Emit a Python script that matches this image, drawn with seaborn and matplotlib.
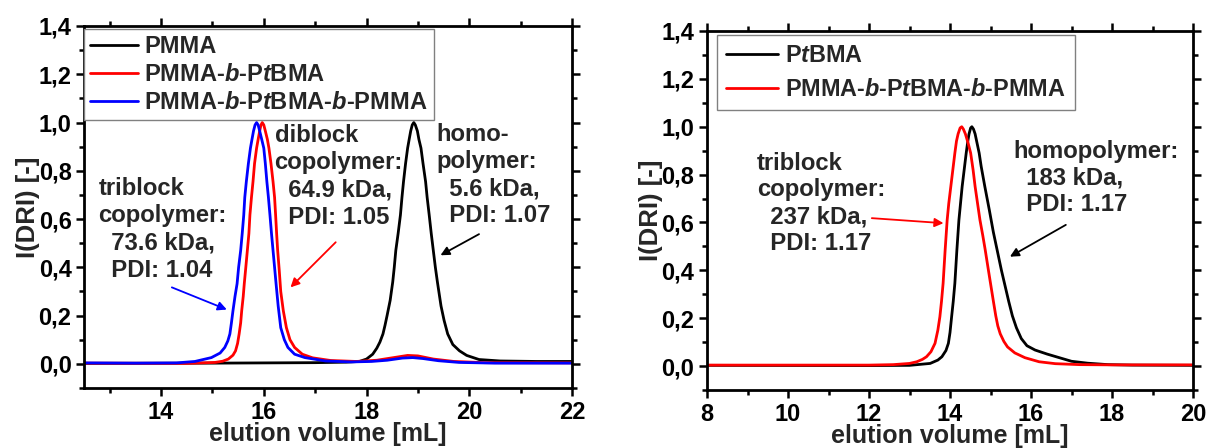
import matplotlib
matplotlib.use("Agg")
import matplotlib.pyplot as plt
import seaborn as sns
import pandas as pd
from matplotlib.ticker import MultipleLocator, FuncFormatter

# ---------------- data ----------------
# Left panel: PMMA homopolymer, diblock, triblock
pmma_x = [12.5, 15.0, 17.0, 17.6, 17.86, 18.0, 18.12, 18.20, 18.26, 18.32, 18.36, 18.40,
          18.46, 18.51, 18.54, 18.57, 18.615, 18.66, 18.69, 18.72, 18.76, 18.80, 18.83,
          18.86, 18.89, 18.92, 18.95, 18.99, 19.02, 19.06, 19.10, 19.15, 19.18, 19.22,
          19.26, 19.30, 19.34, 19.38, 19.45, 19.51, 19.58, 19.68, 19.81, 19.95, 20.19,
          20.6, 21.3, 22.0]
pmma_y = [0.002, 0.003, 0.005, 0.007, 0.010, 0.020, 0.040, 0.065, 0.090, 0.124, 0.160, 0.200,
          0.263, 0.339, 0.400, 0.470, 0.540, 0.617, 0.690, 0.755, 0.830, 0.894, 0.930,
          0.965, 0.990, 1.000, 0.990, 0.965, 0.930, 0.894, 0.830, 0.755, 0.690, 0.617,
          0.540, 0.470, 0.400, 0.339, 0.240, 0.180, 0.124, 0.080, 0.054, 0.035, 0.018,
          0.012, 0.010, 0.010]

di_x = [12.5, 14.5, 15.05, 15.20, 15.31, 15.40, 15.45, 15.49, 15.52, 15.55, 15.57, 15.60,
        15.62, 15.65, 15.68, 15.71, 15.73, 15.76, 15.79, 15.82, 15.86, 15.89, 15.92, 15.945,
        15.97, 16.00, 16.03, 16.07, 16.10, 16.14, 16.18, 16.21, 16.23, 16.25, 16.27, 16.30,
        16.33, 16.38, 16.44, 16.51, 16.60, 16.75, 16.95, 17.3, 17.8, 18.2, 18.5, 18.8,
        19.0, 19.3, 19.7, 20.3, 22.0]
di_y = [0.003, 0.002, 0.006, 0.011, 0.020, 0.036, 0.054, 0.085, 0.124, 0.170, 0.220, 0.280,
        0.332, 0.400, 0.470, 0.540, 0.617, 0.690, 0.755, 0.830, 0.894, 0.930, 0.965, 0.990,
        1.000, 0.990, 0.965, 0.930, 0.894, 0.830, 0.755, 0.690, 0.617, 0.540, 0.470, 0.390,
        0.300, 0.220, 0.150, 0.100, 0.068, 0.040, 0.025, 0.014, 0.010, 0.015, 0.025, 0.035,
        0.033, 0.020, 0.010, 0.005, 0.004]

tri_x = [12.5, 13.5, 14.3, 14.66, 14.98, 15.15, 15.24, 15.30, 15.34, 15.37, 15.40, 15.44,
         15.48, 15.51, 15.55, 15.58, 15.61, 15.63, 15.66, 15.70, 15.74, 15.77, 15.80, 15.83,
         15.86, 15.89, 15.92, 15.96, 16.00, 16.03, 16.06, 16.09, 16.12, 16.15, 16.18, 16.21,
         16.24, 16.28, 16.33, 16.40, 16.47, 16.60, 16.80, 17.2, 17.7, 18.1, 18.4, 18.7,
         18.9, 19.1, 19.4, 19.8, 20.5, 22.0]
tri_y = [0.004, 0.003, 0.004, 0.010, 0.026, 0.045, 0.068, 0.095, 0.124, 0.170, 0.220, 0.280,
         0.332, 0.400, 0.470, 0.540, 0.617, 0.690, 0.755, 0.830, 0.894, 0.930, 0.965, 0.990,
         1.000, 0.990, 0.965, 0.930, 0.894, 0.830, 0.755, 0.690, 0.617, 0.540, 0.470, 0.400,
         0.330, 0.240, 0.150, 0.100, 0.068, 0.040, 0.026, 0.012, 0.008, 0.010, 0.015, 0.024,
         0.026, 0.022, 0.013, 0.006, 0.003, 0.003]

# Right panel: PtBMA homopolymer and triblock
ptbma_x = [8.0, 12.0, 13.0, 13.51, 13.70, 13.80, 13.90, 13.96, 14.00, 14.04, 14.08, 14.12,
           14.17, 14.22, 14.26, 14.30, 14.35, 14.40, 14.44, 14.47, 14.51, 14.54, 14.58,
           14.62, 14.67, 14.72, 14.77, 14.86, 14.97, 15.07, 15.17, 15.27, 15.36, 15.45,
           15.54, 15.64, 15.76, 15.90, 16.1, 16.4, 16.7, 17.0, 17.4, 17.9, 18.5, 20.0]
ptbma_y = [0.003, 0.002, 0.003, 0.011, 0.025, 0.039, 0.065, 0.095, 0.140, 0.206, 0.270, 0.346,
           0.485, 0.610, 0.680, 0.750, 0.820, 0.890, 0.940, 0.970, 0.995, 1.000, 0.990,
           0.970, 0.930, 0.890, 0.834, 0.750, 0.653, 0.560, 0.480, 0.400, 0.335, 0.270,
           0.210, 0.160, 0.115, 0.085, 0.067, 0.050, 0.035, 0.020, 0.012, 0.006, 0.004, 0.003]

tri2_x = [8.0, 12.0, 12.6, 13.0, 13.18, 13.32, 13.42, 13.53, 13.63, 13.70, 13.75, 13.79,
          13.83, 13.88, 13.93, 13.97, 14.02, 14.07, 14.12, 14.16, 14.20, 14.25, 14.29, 14.33,
          14.38, 14.45, 14.51, 14.57, 14.62, 14.68, 14.74, 14.81, 14.87, 14.935, 15.00, 15.07,
          15.13, 15.18, 15.24, 15.33, 15.42, 15.60, 15.85, 16.2, 16.6, 17.2, 18.0, 20.0]
tri2_y = [0.004, 0.004, 0.006, 0.011, 0.018, 0.028, 0.039, 0.060, 0.095, 0.150, 0.206, 0.270,
          0.346, 0.485, 0.610, 0.680, 0.750, 0.820, 0.890, 0.940, 0.970, 0.995, 1.000, 0.990,
          0.970, 0.930, 0.890, 0.820, 0.750, 0.680, 0.610, 0.545, 0.485, 0.415, 0.346, 0.272,
          0.210, 0.168, 0.135, 0.103, 0.080, 0.055, 0.035, 0.018, 0.010, 0.006, 0.005, 0.005]

left_labels = ["PMMA", "PMMA-$b$-P$t$BMA", "PMMA-$b$-P$t$BMA-$b$-PMMA"]
right_labels = ["P$t$BMA", "PMMA-$b$-P$t$BMA-$b$-PMMA"]

left_notes = ["triblock\ncopolymer:\n  73.6 kDa,\n  PDI: 1.04",
              "diblock\ncopolymer:\n  64.9 kDa,\n  PDI: 1.05",
              "homo-\npolymer:\n  5.6 kDa,\n  PDI: 1.07"]
right_notes = ["triblock\ncopolymer:\n  237 kDa,\n  PDI: 1.17",
               "homopolymer:\n  183 kDa,\n  PDI: 1.17"]

xlabel = "elution volume [mL]"
ylabel = "I(DRI) [-]"

# ---------------- style ----------------
sns.set_style("ticks")
plt.rcParams["font.family"] = ["Liberation Sans", "DejaVu Sans"]
plt.rcParams["font.weight"] = "bold"
plt.rcParams["axes.labelweight"] = "bold"
plt.rcParams["mathtext.fontset"] = "custom"
plt.rcParams["mathtext.it"] = "Liberation Sans:italic:bold"
plt.rcParams["mathtext.rm"] = "Liberation Sans:bold"
plt.rcParams["mathtext.bf"] = "Liberation Sans:bold"

fig = plt.figure(figsize=(12.08, 4.48), dpi=100)
axL = fig.add_axes([84 / 1208, 60 / 448, 488 / 1208, 362 / 448])
axR = fig.add_axes([707 / 1208, 58 / 448, 486 / 1208, 359 / 448])

LW = 2.0


def draw(ax, xs, ys, color, label):
    df = pd.DataFrame({"x": xs, "y": ys})
    sns.lineplot(data=df, x="x", y="y", color=color, lw=LW, ax=ax,
                 label=label, errorbar=None, sort=False)


draw(axL, pmma_x, pmma_y, "black", left_labels[0])
draw(axL, di_x, di_y, "#ff0000", left_labels[1])
draw(axL, tri_x, tri_y, "#0000ff", left_labels[2])

draw(axR, ptbma_x, ptbma_y, "black", right_labels[0])
draw(axR, tri2_x, tri2_y, "#ff0000", right_labels[1])

fmt = FuncFormatter(lambda v, p: ("%.1f" % (0.0 if abs(v) < 1e-9 else v)).replace(".", ","))

for ax, (x0, x1) in ((axL, (12.5, 22)), (axR, (8, 20))):
    ax.set_xlim(x0, x1)
    ax.set_ylim(-0.1, 1.4)
    ax.xaxis.set_major_locator(MultipleLocator(2))
    ax.xaxis.set_minor_locator(MultipleLocator(1))
    ax.yaxis.set_major_locator(MultipleLocator(0.2))
    ax.yaxis.set_minor_locator(MultipleLocator(0.1))
    ax.yaxis.set_major_formatter(fmt)
    ax.tick_params(which="both", direction="out", top=True, right=True,
                   labeltop=False, labelright=False, width=1.8, colors="black",
                   labelsize=17, pad=3)
    ax.tick_params(which="major", length=6)
    ax.tick_params(which="minor", length=3.5)
    for s in ax.spines.values():
        s.set_linewidth(2.0)
        s.set_color("black")
        s.set_visible(True)
    ax.set_xlabel(xlabel, fontsize=18, fontweight="bold", labelpad=-1)
    ax.set_ylabel(ylabel, fontsize=18.5, fontweight="bold", labelpad=-1)
    for t in ax.get_xticklabels() + ax.get_yticklabels():
        t.set_fontweight("bold")

legL = axL.legend(loc="upper left", bbox_to_anchor=(0.0, 1 - 3 / 362), borderaxespad=0,
                  frameon=True, fancybox=False, edgecolor="#808080", framealpha=1,
                  fontsize=17, handlelength=2.0, handletextpad=0.28, labelspacing=0.2,
                  borderpad=0.27)
legL.get_frame().set_linewidth(1.0)
legR = axR.legend(loc="upper left", bbox_to_anchor=(10 / 486, 1 - 4 / 359), borderaxespad=0,
                  frameon=True, fancybox=False, edgecolor="#808080", framealpha=1,
                  fontsize=16.8, handlelength=2.2, handletextpad=0.3, labelspacing=0.45,
                  borderpad=0.4)
legR.get_frame().set_linewidth(1.0)

NOTE_FS = 17.2
axL.text(12.78, 0.775, left_notes[0], fontsize=NOTE_FS, fontweight="bold", va="top",
         ha="left", linespacing=1.24)
axL.text(16.21, 0.995, left_notes[1], fontsize=NOTE_FS, fontweight="bold", va="top",
         ha="left", linespacing=1.24)
axL.text(19.36, 1.0, left_notes[2], fontsize=NOTE_FS, fontweight="bold", va="top",
         ha="left", linespacing=1.24)
axR.text(9.23, 0.895, right_notes[0], fontsize=NOTE_FS, fontweight="bold", va="top",
         ha="left", linespacing=1.2)
axR.text(15.56, 0.945, right_notes[1], fontsize=NOTE_FS, fontweight="bold", va="top",
         ha="left", linespacing=1.2)


def arrow(ax, tail, tip, color):
    ax.annotate("", xy=tip, xytext=tail,
                arrowprops=dict(arrowstyle="-|>", color=color, lw=1.3,
                                mutation_scale=13, shrinkA=0, shrinkB=0))


arrow(axL, (14.21, 0.317), (15.28, 0.225), "#0000ff")
arrow(axL, (17.40, 0.504), (16.52, 0.317), "#ff0000")
arrow(axL, (20.19, 0.5375), (19.44, 0.45), "black")
arrow(axR, (12.07, 0.618), (13.84, 0.597), "#ff0000")
arrow(axR, (16.86, 0.59), (15.48, 0.457), "black")

fig.savefig("out.png", dpi=100)
